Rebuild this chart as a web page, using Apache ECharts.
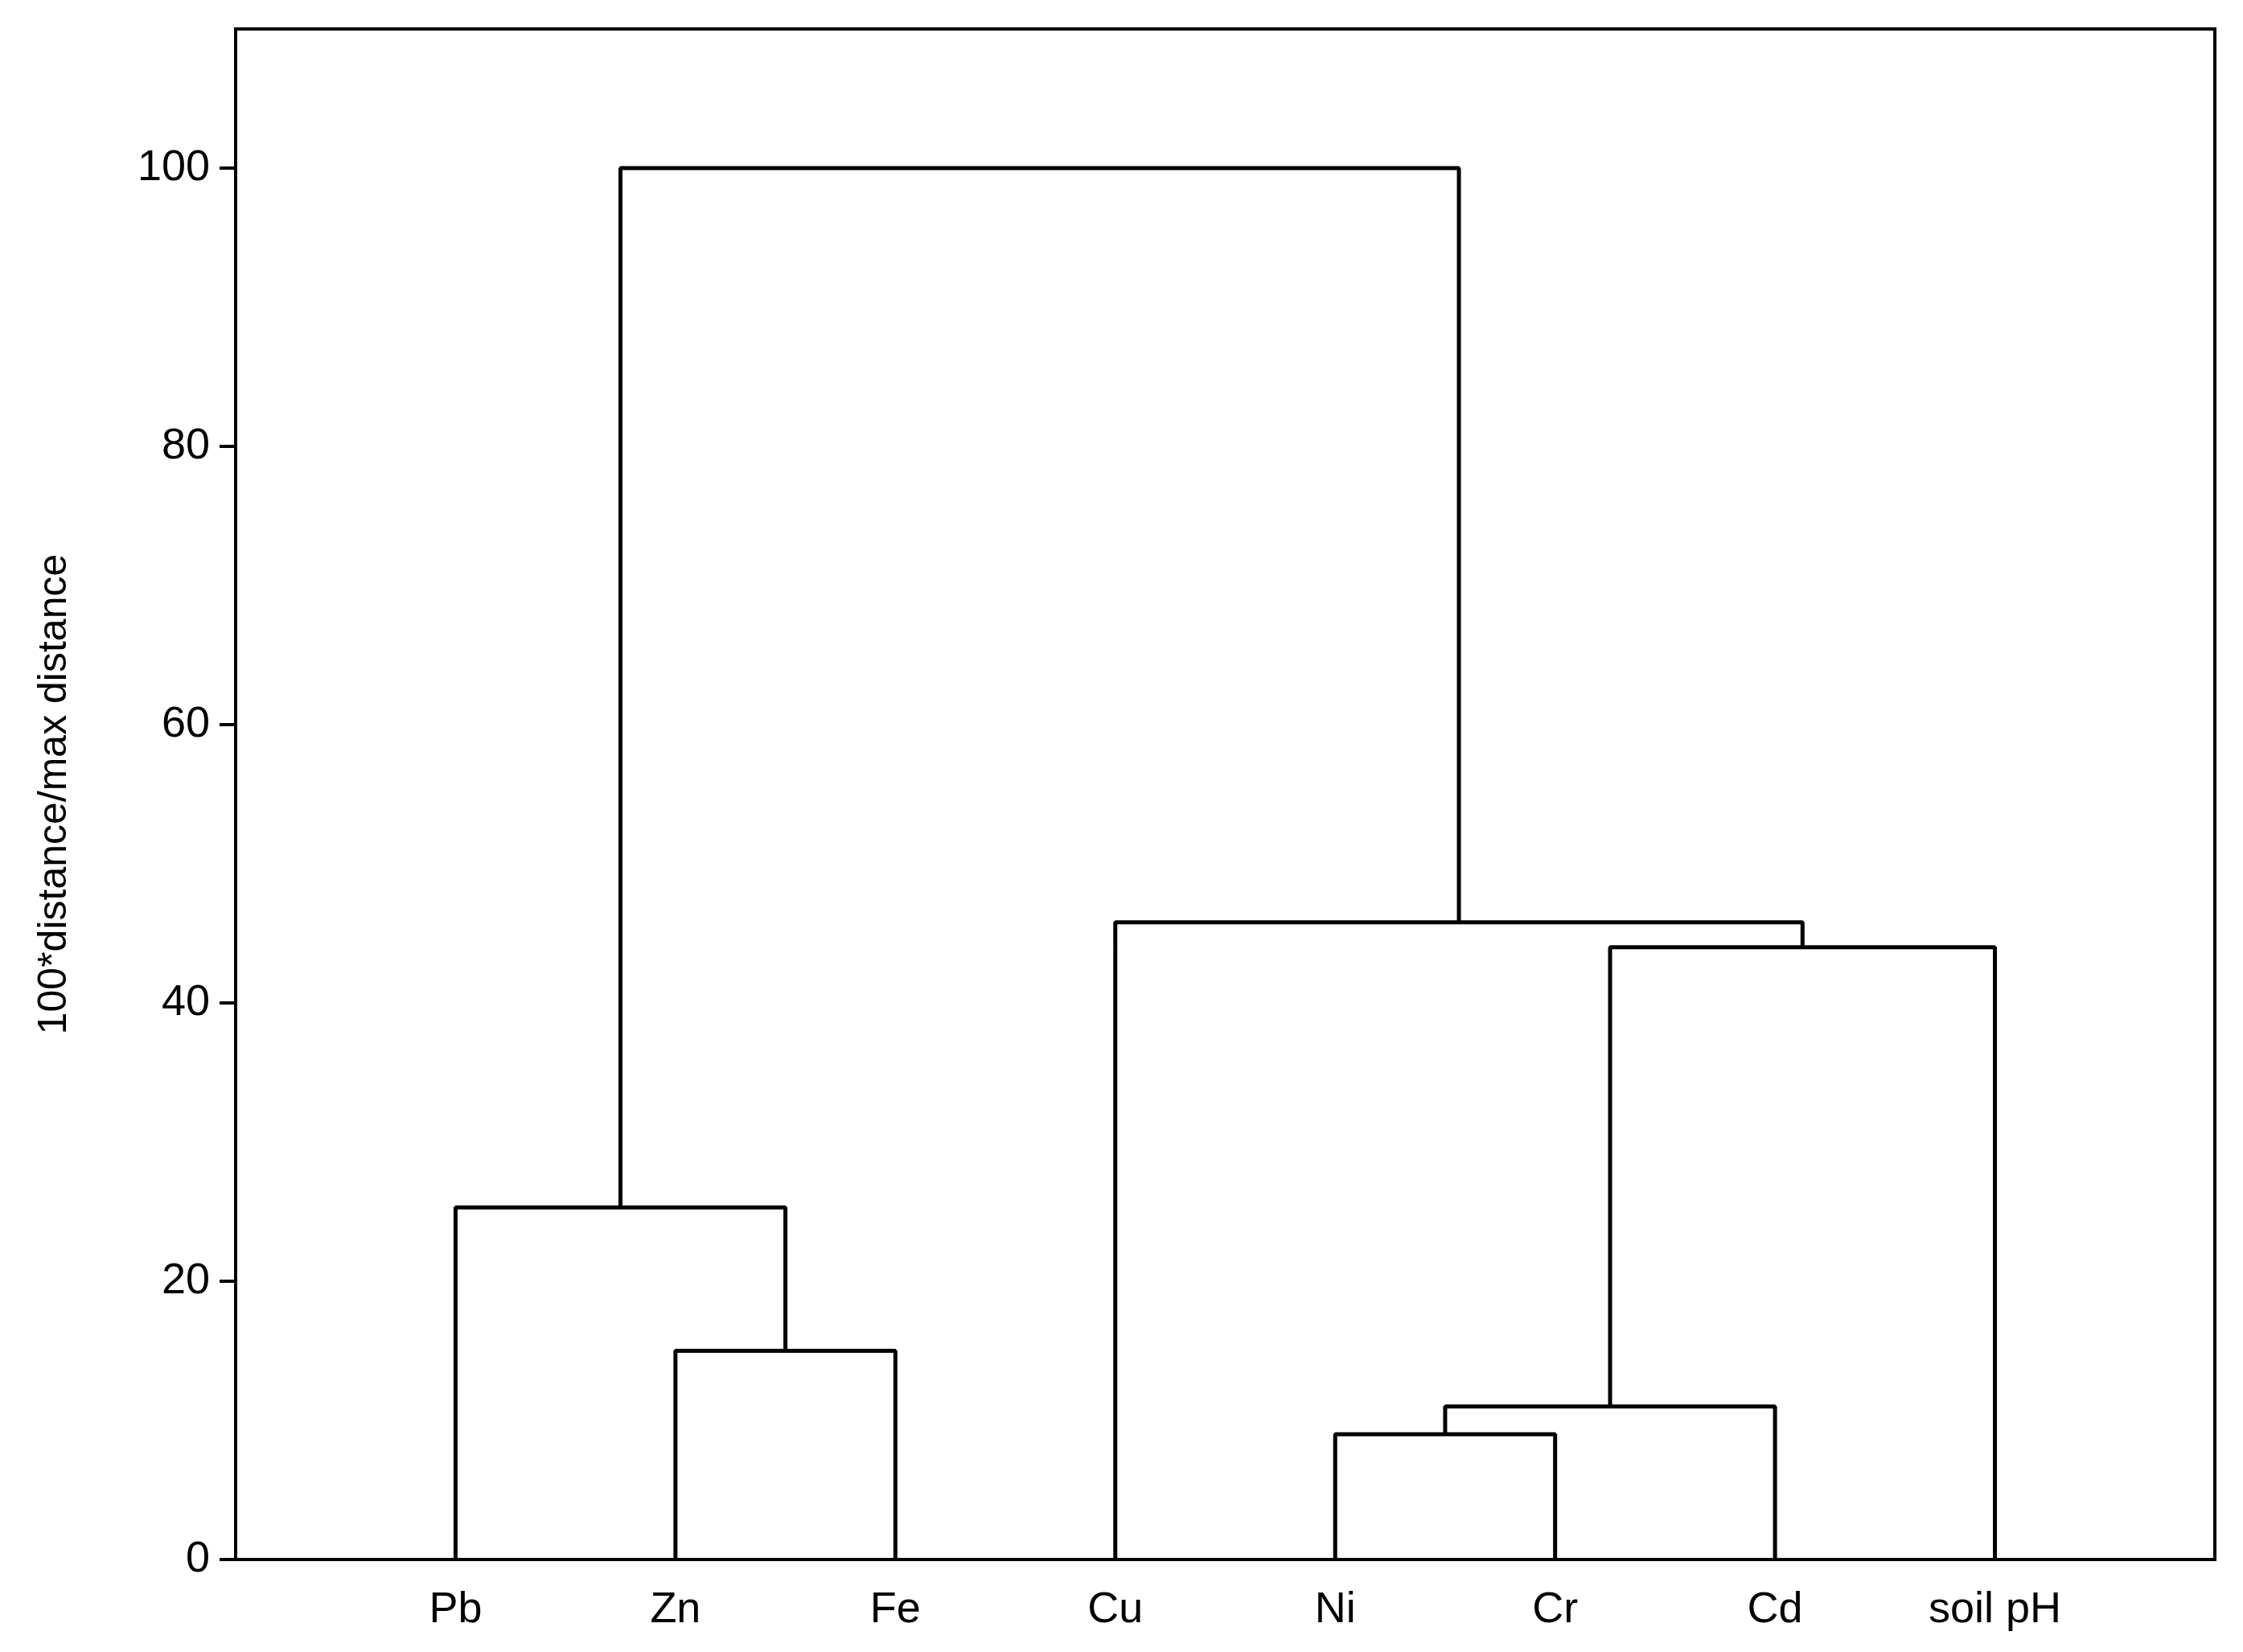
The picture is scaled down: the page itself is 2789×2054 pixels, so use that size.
<!DOCTYPE html>
<html style="height: 100%">
<head>
  <meta charset="UTF-8" />
  <title>Dendrogram</title>
  <script src="https://cdn.jsdelivr.net/npm/echarts@6/dist/echarts.min.js"></script>
</head>
<body style="height: 100%; margin: 0; background: #fff">
  <div id="container" style="height: 100%"></div>
  <script>
    const leaves = ['Pb', 'Zn', 'Fe', 'Cu', 'Ni', 'Cr', 'Cd', 'soil pH'];
    // merges: [left child, right child, height]; children are leaf names or merge ids (m0, m1 ...)
    const merges = [
      ['Ni', 'Cr', 9.0],
      ['m0', 'Cd', 11.0],
      ['Zn', 'Fe', 15.0],
      ['Pb', 'm2', 25.3],
      ['m1', 'soil pH', 44.0],
      ['Cu', 'm4', 45.8],
      ['m3', 'm5', 100]
    ];

    const pos = {};
    leaves.forEach((e, i) => { pos[e] = { x: i + 1, h: 0 }; });
    const series = [];
    merges.forEach((m, i) => {
      const a = pos[m[0]], b = pos[m[1]];
      series.push({
        type: 'line',
        symbol: 'none',
        silent: true,
        lineStyle: { color: '#000', width: 5 },
        data: [[a.x, a.h], [a.x, m[2]], [b.x, m[2]], [b.x, b.h]]
      });
      pos['m' + i] = { x: (a.x + b.x) / 2, h: m[2] };
    });

    const chart = echarts.init(document.getElementById('container'));
    const font = 'Liberation Sans';
    chart.setOption({
      animation: false,
      grid: { left: 293, right: 35, top: 36, bottom: 115, show: true, borderColor: '#000', borderWidth: 4 },
      xAxis: {
        type: 'value', min: 0, max: 9, interval: 1,
        axisLine: { lineStyle: { color: '#000', width: 4 } },
        axisTick: { show: false },
        splitLine: { show: false },
        axisLabel: {
          fontFamily: font, fontSize: 54, color: '#000', margin: 36,
          formatter: v => leaves[v - 1] || ''
        }
      },
      yAxis: {
        type: 'value', min: 0, max: 110, interval: 20,
        name: '100*distance/max distance', nameLocation: 'middle', nameGap: 200,
        nameTextStyle: { fontFamily: font, fontSize: 50, color: '#000' },
        axisLine: { show: true, lineStyle: { color: '#000', width: 4 } },
        axisTick: { show: true, length: 20, lineStyle: { color: '#000', width: 4 } },
        splitLine: { show: false },
        axisLabel: {
          fontFamily: font, fontSize: 54, color: '#000', margin: 32,
          showMaxLabel: false,
          formatter: v => v <= 100 ? String(v) : ''
        }
      },
      series: series
    });
    window.addEventListener('resize', chart.resize);
  </script>
</body>
</html>
